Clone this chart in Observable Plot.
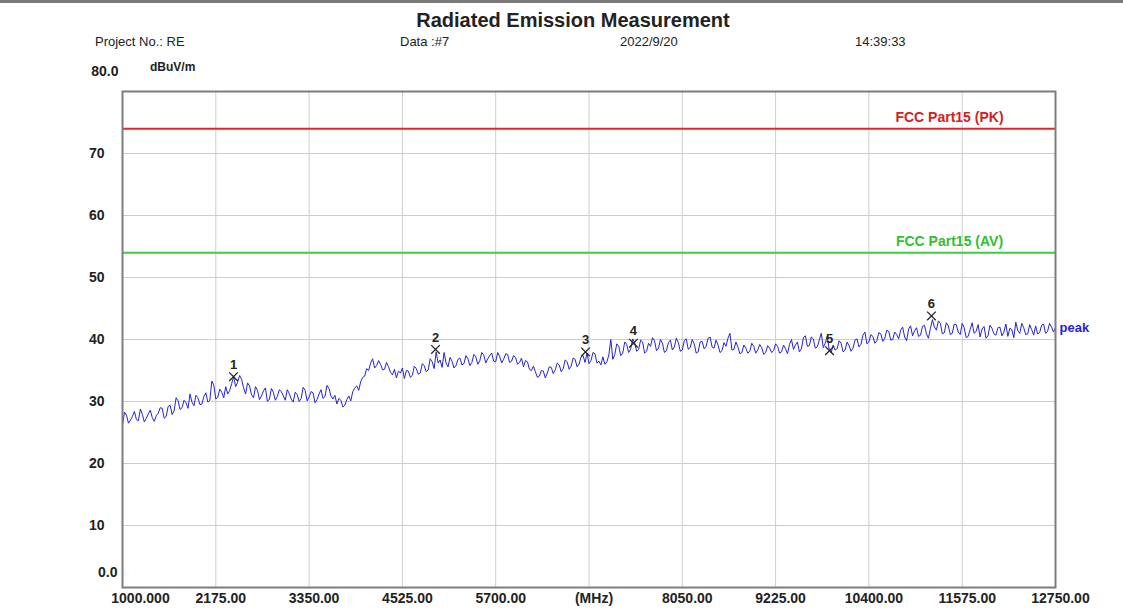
<!DOCTYPE html>
<html>
<head>
<meta charset="utf-8">
<script src="https://cdn.jsdelivr.net/npm/d3@7"></script>
<script src="https://cdn.jsdelivr.net/npm/@observablehq/plot@0.6"></script>
<style>
  html, body { margin: 0; padding: 0; background: #fff; width: 1123px; height: 610px; overflow: hidden; }
  body { position: relative; font-family: "Liberation Sans", Arial, sans-serif; color: #222; }
  .topline { position: absolute; left: 0; top: 0; width: 1123px; height: 3px; background: #7a7a7a; }
  .t { position: absolute; white-space: nowrap; line-height: 1; }
  #chart { position: absolute; left: 0; top: 0; }
</style>
</head>
<body>
<div class="topline"></div>
<div id="chart"></div>
<div class="t" id="title" style="left:0; width:1146px; text-align:center; top:10px; font-size:20px; font-weight:bold;"></div>
<div class="t" id="h0" style="left:95px; top:35px; font-size:13px;"></div>
<div class="t" id="h1" style="left:400px; top:35px; font-size:13px;"></div>
<div class="t" id="h2" style="left:620px; top:35px; font-size:13px;"></div>
<div class="t" id="h3" style="left:855px; top:35px; font-size:13px;"></div>
<div class="t" id="unit" style="left:150px; top:61px; font-size:12px; font-weight:bold;"></div>
<script>
// ---- text ----
const chartTitle = "Radiated Emission Measurement";
const headerFields = ["Project No.: RE", "Data :#7", "2022/9/20", "14:39:33"];
const unitLabel = "dBuV/m";

// ---- axes ----
const xTicks = [1000, 2175, 3350, 4525, 5700, 6875, 8050, 9225, 10400, 11575, 12750];
const xTickLabels = ["1000.000", "2175.00", "3350.00", "4525.00", "5700.00", "(MHz)", "8050.00", "9225.00", "10400.00", "11575.00", "12750.00"];
const yTicks = [0, 10, 20, 30, 40, 50, 60, 70, 80];
const yTickLabels = ["0.0", "10", "20", "30", "40", "50", "60", "70", "80.0"];

// ---- limits ----
const limitNames = ["FCC Part15 (PK)", "FCC Part15 (AV)"];
const limitLevels = [74, 54];

// ---- markers ----
const markerNo = [1, 2, 3, 4, 5, 6];
const markerFreq = [2398, 4942, 6831, 7435, 9904, 11188];
const markerLevel = [34.0, 38.4, 38.0, 39.4, 38.2, 43.8];

// ---- peak trace [MHz, dBuV/m] ----
const traceName = "peak";
const peakTrace = [
  [1000,26.2],[1025,28.3],[1050,27.8],[1075,26.5],[1100,27.0],[1125,27.6],[1150,28.4],[1175,27.1],[1200,26.9],[1225,28.8],
  [1250,27.9],[1275,26.7],[1300,27.3],[1325,28.0],[1350,28.6],[1375,27.4],[1400,26.8],[1425,27.7],[1450,28.1],[1475,29.0],
  [1500,28.9],[1525,27.3],[1550,27.6],[1575,29.2],[1600,29.4],[1625,27.9],[1650,28.5],[1675,30.6],[1700,30.1],[1725,28.7],
  [1750,29.0],[1775,30.2],[1800,29.8],[1825,28.9],[1850,31.2],[1875,29.9],[1900,29.3],[1925,31.0],[1950,30.6],[1975,29.5],
  [2000,29.6],[2025,30.8],[2050,31.4],[2075,29.9],[2100,30.2],[2125,33.3],[2150,32.6],[2175,30.4],[2200,30.7],[2225,32.0],
  [2250,31.5],[2275,30.6],[2300,32.4],[2325,31.2],[2350,31.8],[2375,32.9],[2400,34.0],[2425,32.4],[2450,33.1],[2475,34.2],
  [2500,33.6],[2525,32.2],[2550,31.2],[2575,33.0],[2600,32.5],[2625,31.1],[2650,30.6],[2675,32.4],[2700,31.8],[2725,30.3],
  [2750,30.9],[2775,31.7],[2800,32.2],[2825,30.0],[2850,30.4],[2875,32.1],[2900,31.5],[2925,30.2],[2950,30.8],[2975,31.9],
  [3000,31.6],[3025,30.9],[3050,30.2],[3075,31.9],[3100,31.3],[3125,30.4],[3150,29.9],[3175,31.5],[3200,31.1],[3225,30.0],
  [3250,30.5],[3275,32.3],[3300,31.8],[3325,30.1],[3350,30.7],[3375,31.6],[3400,31.4],[3425,29.8],[3450,30.3],[3475,31.2],
  [3500,31.9],[3525,30.5],[3550,30.8],[3575,32.6],[3600,32.1],[3625,30.9],[3650,30.4],[3675,31.0],[3700,29.6],[3725,30.5],
  [3750,30.2],[3775,29.1],[3800,29.4],[3825,30.3],[3850,30.9],[3875,30.1],[3900,31.6],[3925,32.2],[3950,32.5],[3975,31.8],
  [4000,33.2],[4025,33.9],[4050,34.1],[4075,35.3],[4100,35.0],[4125,36.2],[4150,36.9],[4175,35.4],[4200,35.8],[4225,36.6],
  [4250,36.0],[4275,35.1],[4300,35.2],[4325,36.3],[4350,35.6],[4375,34.7],[4400,34.3],[4425,35.2],[4450,33.8],[4475,34.9],
  [4500,34.6],[4525,35.4],[4550,33.7],[4575,35.0],[4600,34.9],[4625,33.9],[4650,34.2],[4675,35.7],[4700,35.3],[4725,34.4],
  [4750,34.6],[4775,36.1],[4800,35.8],[4825,34.8],[4850,35.1],[4875,36.9],[4900,36.4],[4925,35.3],[4950,38.0],[4975,36.2],
  [5000,36.7],[5025,35.5],[5050,37.9],[5075,36.2],[5100,35.6],[5125,37.1],[5150,36.5],[5175,35.4],[5200,35.8],[5225,36.8],
  [5250,37.0],[5275,35.9],[5300,36.1],[5325,37.4],[5350,36.9],[5375,35.8],[5400,36.3],[5425,37.6],[5450,37.2],[5475,36.0],
  [5500,36.6],[5525,37.9],[5550,37.5],[5575,36.2],[5600,36.9],[5625,37.4],[5650,37.8],[5675,36.5],[5700,36.4],[5725,37.9],
  [5750,37.3],[5775,36.2],[5800,36.8],[5825,37.7],[5850,37.6],[5875,36.3],[5900,36.5],[5925,37.4],[5950,37.1],[5975,36.0],
  [6000,36.3],[6025,37.0],[6050,35.6],[6075,36.6],[6100,36.4],[6125,35.2],[6150,35.0],[6175,35.7],[6200,34.8],[6225,33.9],
  [6250,34.1],[6275,35.0],[6300,34.9],[6325,33.8],[6350,34.6],[6375,35.6],[6400,35.5],[6425,34.5],[6450,35.1],[6475,36.2],
  [6500,35.9],[6525,34.8],[6550,35.3],[6575,36.7],[6600,36.4],[6625,35.2],[6650,35.7],[6675,37.0],[6700,36.8],[6725,35.6],
  [6750,36.0],[6775,37.2],[6800,37.4],[6825,36.3],[6850,37.8],[6875,36.1],[6900,36.6],[6925,37.9],[6950,37.7],[6975,36.2],
  [7000,36.5],[7025,35.9],[7050,37.2],[7075,36.0],[7100,36.4],[7125,37.5],[7150,40.0],[7175,36.8],[7200,37.6],[7225,39.3],
  [7250,38.9],[7275,37.4],[7300,37.8],[7325,39.6],[7350,39.2],[7375,37.9],[7400,38.5],[7425,40.1],[7450,39.5],[7475,38.1],
  [7500,38.4],[7525,39.9],[7550,39.6],[7575,37.8],[7600,38.1],[7625,39.4],[7650,38.9],[7675,40.3],[7700,39.8],[7725,38.2],
  [7750,38.6],[7775,40.0],[7800,39.4],[7825,37.9],[7850,38.2],[7875,39.5],[7900,39.9],[7925,38.3],[7950,38.8],[7975,40.2],
  [8000,39.5],[8025,38.1],[8050,38.3],[8075,39.8],[8100,40.1],[8125,38.4],[8150,38.7],[8175,40.0],[8200,39.3],[8225,37.8],
  [8250,38.0],[8275,39.6],[8300,39.7],[8325,38.5],[8350,38.9],[8375,40.2],[8400,40.4],[8425,38.8],[8450,38.6],[8475,39.9],
  [8500,39.1],[8525,37.9],[8550,38.2],[8575,39.5],[8600,38.9],[8625,40.2],[8650,41.0],[8675,38.3],[8700,38.4],[8725,39.6],
  [8750,38.8],[8775,37.7],[8800,37.9],[8825,39.1],[8850,38.6],[8875,37.8],[8900,38.1],[8925,39.4],[8950,38.9],[8975,37.8],
  [9000,38.3],[9025,39.2],[9050,38.7],[9075,37.6],[9100,37.9],[9125,39.0],[9150,38.6],[9175,37.9],[9200,38.2],[9225,39.3],
  [9250,38.9],[9275,37.8],[9300,38.0],[9325,39.1],[9350,38.5],[9375,37.7],[9400,39.2],[9425,40.0],[9450,38.4],[9475,39.1],
  [9500,39.6],[9525,38.0],[9550,38.5],[9575,40.3],[9600,40.6],[9625,38.9],[9650,39.0],[9675,40.4],[9700,40.1],[9725,38.6],
  [9750,38.8],[9775,39.9],[9800,41.0],[9825,38.7],[9850,39.4],[9875,40.5],[9900,38.4],[9925,37.9],[9950,39.1],[9975,38.3],
  [10000,38.5],[10025,39.8],[10050,39.4],[10075,38.0],[10100,38.3],[10125,39.6],[10150,39.0],[10175,38.1],[10200,38.6],[10225,39.9],
  [10250,40.1],[10275,38.8],[10300,39.2],[10325,40.7],[10350,41.2],[10375,39.3],[10400,39.6],[10425,40.8],[10450,40.5],[10475,39.4],
  [10500,39.8],[10525,41.1],[10550,40.9],[10575,39.7],[10600,40.2],[10625,41.5],[10650,41.3],[10675,39.9],[10700,40.0],[10725,41.2],
  [10750,40.8],[10775,40.1],[10800,41.5],[10825,42.0],[10850,40.4],[10875,39.8],[10900,41.7],[10925,42.2],[10950,40.6],[10975,41.4],
  [11000,41.9],[11025,40.5],[11050,40.7],[11075,42.1],[11100,42.3],[11125,40.9],[11150,40.2],[11175,41.8],[11200,43.2],[11225,42.0],
  [11250,41.5],[11275,43.0],[11300,42.6],[11325,40.9],[11350,41.1],[11375,42.7],[11400,42.2],[11425,40.8],[11450,41.0],[11475,42.5],
  [11500,42.4],[11525,41.2],[11550,40.8],[11575,42.6],[11600,41.9],[11625,40.3],[11650,40.5],[11675,41.6],[11700,42.7],[11725,41.0],
  [11750,41.3],[11775,42.4],[11800,40.4],[11825,41.7],[11850,42.1],[11875,40.2],[11900,40.6],[11925,42.3],[11950,41.8],[11975,40.9],
  [12000,40.7],[12025,41.9],[12050,42.0],[12075,40.6],[12100,41.2],[12125,42.5],[12150,40.5],[12175,41.8],[12200,41.6],[12225,40.3],
  [12250,42.8],[12275,41.4],[12300,41.0],[12325,42.6],[12350,41.9],[12375,40.8],[12400,40.9],[12425,42.4],[12450,41.6],[12475,40.7],
  [12500,42.2],[12525,40.9],[12550,41.1],[12575,42.3],[12600,42.5],[12625,41.0],[12650,41.3],[12675,42.6],[12700,42.0],[12725,41.2],
  [12750,41.9]
];

document.getElementById("title").textContent = chartTitle;
headerFields.forEach((t, i) => document.getElementById("h" + i).textContent = t);
document.getElementById("unit").textContent = unitLabel;

const markers = markerNo.map((n, i) => ({n, f: markerFreq[i], v: markerLevel[i]}));
const lastPt = peakTrace[peakTrace.length - 1];
const font = "'Liberation Sans', Arial, sans-serif";
const midY = yTicks.slice(1, -1);

const chart = Plot.plot({
  width: 1123,
  height: 610,
  marginLeft: 122,
  marginRight: 68,
  marginTop: 91,
  marginBottom: 23,
  style: {fontFamily: font, background: "transparent", overflow: "visible"},
  x: {type: "linear", domain: [xTicks[0], xTicks[xTicks.length - 1]], axis: null},
  y: {type: "linear", domain: [yTicks[0], yTicks[yTicks.length - 1]], axis: null},
  marks: [
    Plot.gridX(xTicks, {stroke: "#cdcdcd", strokeOpacity: 1, strokeWidth: 1}),
    Plot.gridY(yTicks, {stroke: "#cdcdcd", strokeOpacity: 1, strokeWidth: 1}),
    Plot.ruleY([limitLevels[0]], {stroke: "#e0262b", strokeWidth: 2}),
    Plot.ruleY([limitLevels[1]], {stroke: "#3fcd3f", strokeWidth: 2}),
    Plot.text([limitNames[0]], {x: 11415, y: limitLevels[0], text: d => d, dy: -11, fill: "#d42020", fontSize: 14, fontWeight: "bold"}),
    Plot.text([limitNames[1]], {x: 11415, y: limitLevels[1], text: d => d, dy: -11, fill: "#30c030", fontSize: 14, fontWeight: "bold"}),
    Plot.line(peakTrace, {x: d => d[0], y: d => d[1], stroke: "#2424d6", strokeWidth: 1}),
    Plot.dot(markers, {x: "f", y: "v", symbol: "times", r: 4, stroke: "#222", strokeWidth: 1.3}),
    Plot.text(markers, {x: "f", y: "v", text: "n", dy: -12, fontSize: 13, fontWeight: "bold", fill: "#222"}),
    Plot.text([traceName], {x: lastPt[0], y: lastPt[1], text: d => d, textAnchor: "start", dx: 4, fill: "#2424d6", fontSize: 13, fontWeight: "bold"}),
    Plot.frame({stroke: "#7d7d7d", strokeWidth: 2}),
    // y tick labels
    Plot.text(midY, {x: xTicks[0], y: d => d, text: d => yTickLabels[yTicks.indexOf(d)], textAnchor: "end", dx: -18, fontSize: 14, fontWeight: "bold", fill: "#222"}),
    Plot.text([yTicks[0]], {x: xTicks[0], y: d => d, text: d => yTickLabels[0], textAnchor: "end", dx: -5, dy: -15, fontSize: 14, fontWeight: "bold", fill: "#222"}),
    Plot.text([yTicks[yTicks.length - 1]], {x: xTicks[0], y: d => d, text: d => yTickLabels[yTicks.length - 1], textAnchor: "end", dx: -4, dy: -20, fontSize: 14, fontWeight: "bold", fill: "#222"}),
    // x tick labels
    Plot.text(xTicks.slice(1), {x: d => d, y: yTicks[0], text: d => xTickLabels[xTicks.indexOf(d)], dy: 11, dx: 5, fontSize: 14, fontWeight: "bold", fill: "#222"}),
    Plot.text([xTicks[0]], {x: d => d, y: yTicks[0], text: d => xTickLabels[0], dy: 11, dx: 18, fontSize: 14, fontWeight: "bold", fill: "#222"})
  ]
});
document.getElementById("chart").appendChild(chart);
</script>
</body>
</html>
